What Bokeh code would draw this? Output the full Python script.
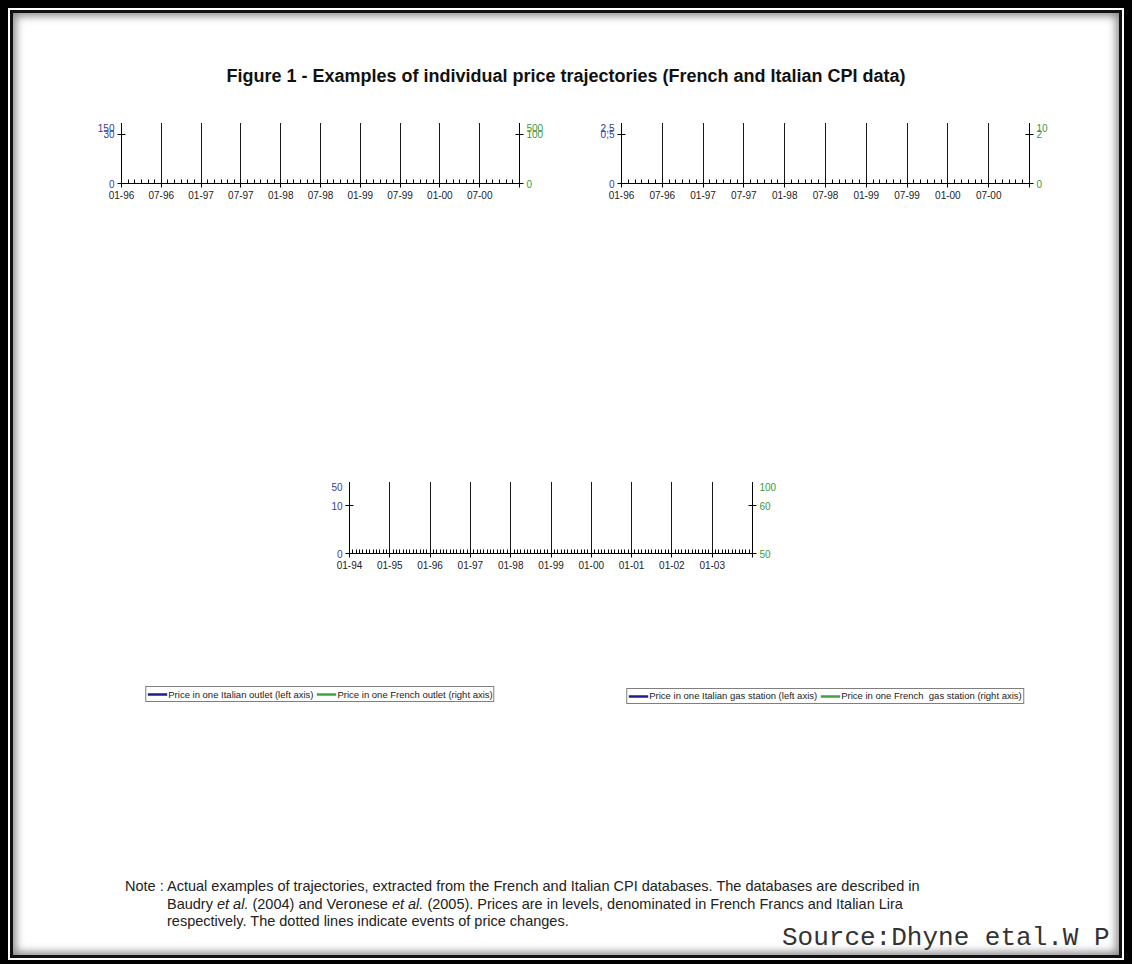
from bokeh.plotting import figure
from bokeh.models import (Range1d, LinearAxis, FixedTicker, Legend, LegendItem, Div, Spacer)
from bokeh.layouts import column, row
from bokeh.embed import file_html
from bokeh.resources import INLINE

FONT = "Liberation Sans"
BLUE = "#1f1f8c"
GREEN = "#3ca63c"
TICK_BLUE = "#3c3c98"
TICK_GREEN = "#3a9a3a"

# ---------------- data ----------------
# Jeans trousers: monthly prices, month index 0 = 01-96
jeans_it_start = 0
jeans_it = [45, 45, 45, 45, 45, 45, 45, 45, 45, 45, 45, 45, 45, 45, 45,
            50, 50, 50, 50,
            40, 40, 40, 40, 40, 40, 40,
            75, 75, 75, 75, 75, 75,
            99, 99, 99, 99, 99, 99, 99, 99, 99, 99,
            99, 99, 99, 99, 99, 99, 99, 99, 99, 99,
            99, 99, 99]
jeans_fr_start = 32
jeans_fr = [339, 339, 339, 339, 339, 339, 339, 339,
            328, 328, 250,
            328, 328, 328, 328, 328,
            276]
jeans_ticks = [0, 6, 12, 18, 24, 30, 36, 42, 48, 54, 60]
jeans_labels = ["01-96", "07-96", "01-97", "07-97", "01-98", "07-98",
                "01-99", "07-99", "01-00", "07-00", ""]

# Gasoline: monthly prices, month index 0 = 01-96
gas_it = [1.75, 1.75, 1.78, 1.81, 1.82, 1.80, 1.79, 1.80, 1.80, 1.80,
          1.81, 1.82, 1.82, 1.83, 1.83, 1.81, 1.82, 1.82, 1.81, 1.82,
          1.83, 1.84, 1.84, 1.83, 1.82, 1.80, 1.78, 1.78, 1.78, 1.78,
          1.79, 1.80, 1.79, 1.77, 1.77, 1.74, 1.72, 1.75, 1.77, 1.81,
          1.86, 1.87, 1.89, 1.92, 1.93, 1.96, 1.92, 1.98, 1.97, 2.01,
          2.09, 2.03, 2.07, 2.17, 2.20, 2.20, 2.20, 2.17, 2.18, 2.14]
gas_fr = [3.77, 3.91, 3.92, 3.92, 3.94, 3.90, 3.86, 3.86, 4.12, 4.38,
          4.18, 4.22, 4.22, 4.24, 4.11, 4.08, 4.08, 4.02, 3.97, 4.08,
          4.10, 4.12, 4.16, 4.12, 4.09, 4.06, 4.02, 4.01, 4.00, 3.92,
          3.78, 3.80, 3.84, 3.78, 3.75, 3.70, 3.72, 3.84, 3.90, 4.08,
          4.10, 4.06, 4.10, 4.24, 4.42, 4.46, 4.62, 4.94, 4.96, 4.96,
          4.95, 5.00, 5.08, 5.14, 5.02, 5.50, 5.86, 5.84, 6.00, 5.18]
gas_ticks = [0, 6, 12, 18, 24, 30, 36, 42, 48, 54, 60]
gas_labels = ["01-96", "07-96", "01-97", "07-97", "01-98", "07-98",
              "01-99", "07-99", "01-00", "07-00", ""]

# Haircut (men): monthly prices, month index 0 = 01-94
hair_it_start = 24
hair_it = [22, 22, 22, 22, 22, 22, 22, 22, 22,
           23, 23, 23, 23, 23, 23,
           25, 25, 25, 25, 25, 25, 25, 25, 25, 25,
           25, 25, 25, 25, 25, 25, 25, 25, 25, 25,
           25, 25, 25, 25, 25, 25, 25, 25, 25, 25,
           25, 25, 25, 25, 25, 25, 25, 25, 25, 25,
           25, 25, 25, 25, 25, 25, 25, 25, 25, 25,
           25, 25, 25, 25, 25, 25, 25, 25,
           28, 28, 28, 28, 28, 28, 28, 28, 28,
           30, 30, 30, 30, 30, 30, 30, 30, 30, 30, 30, 30, 30, 30]
hair_fr_start = 6
hair_fr = [75, 75, 75, 75, 75,
           82, 82, 82, 82, 82, 82, 82, 82,
           85, 85, 85, 85, 85, 85, 85, 85, 85, 85,
           85, 85, 85, 85, 85, 85, 85, 85,
           87, 87, 87, 87, 87, 87, 87, 87, 87, 87, 87,
           89, 89, 89, 89, 89, 89, 89, 89, 89, 89,
           89, 89, 89, 89, 89, 89, 89, 89, 89, 89,
           89, 89, 89,
           92, 92, 92, 92, 92, 92, 92, 92, 92, 92, 92, 92,
           95]
hair_ticks = [0, 12, 24, 36, 48, 60, 72, 84, 96, 108, 120]
hair_labels = ["01-94", "01-95", "01-96", "01-97", "01-98", "01-99",
               "01-00", "01-01", "01-02", "01-03", ""]

gas_left_ticks = [0, 0.5, 1, 1.5, 2, 2.5]
gas_left_labels = ["0", "0,5", "1", "1,5", "2", "2,5"]


# ---------------- helpers ----------------
def runs(start, vals):
    xs, ys = [], []
    seg = dict(x0=[], y0=[], x1=[], y1=[])
    n = len(vals)
    k = 0
    while k < n:
        j = k
        while j + 1 < n and vals[j + 1] == vals[k]:
            j += 1
        if j > k:
            xs.append([start + k + 0.5, start + j + 0.5])
            ys.append([vals[k], vals[k]])
        if j + 1 < n:
            seg["x0"].append(start + j + 0.5)
            seg["y0"].append(vals[j])
            seg["x1"].append(start + j + 1.5)
            seg["y1"].append(vals[j + 1])
        k = j + 1
    return xs, ys, seg


def add_series(p, start, vals, color, dash, change_width, yname="default"):
    xs, ys, seg = runs(start, vals)
    r = p.multi_line(xs=xs, ys=ys, line_color=color, line_width=2.5,
                     y_range_name=yname)
    p.segment(x0=seg["x0"], y0=seg["y0"], x1=seg["x1"], y1=seg["y1"],
              line_color=color, line_width=change_width, line_dash=dash,
              y_range_name=yname)
    return r


def style_axis(ax, ticks, labels, color, minor=None, label="", label_color="black"):
    ax.ticker = FixedTicker(ticks=ticks, minor_ticks=minor or [])
    ax.major_label_overrides = {t: l for t, l in zip(ticks, labels)}
    ax.axis_line_color = "black"
    ax.axis_line_width = 1
    ax.major_tick_line_color = "black"
    ax.major_tick_in = 4
    ax.major_tick_out = 4
    if minor:
        ax.minor_tick_line_color = "black"
        ax.minor_tick_in = 4
        ax.minor_tick_out = 0
    else:
        ax.minor_tick_line_color = None
    ax.major_label_text_font = FONT
    ax.major_label_text_font_size = "10px"
    ax.major_label_text_color = color
    ax.major_label_standoff = 3
    if label:
        ax.axis_label = label
        ax.axis_label_text_font = FONT
        ax.axis_label_text_font_size = "8.5px"
        ax.axis_label_text_font_style = "bold"
        ax.axis_label_text_color = label_color
        ax.axis_label_standoff = 4


def make_fig(title, width, height, mbl, mbr, mbt, mbb, xmax, yl, yr, tstandoff):
    p = figure(width=width, height=height, x_range=Range1d(0, xmax),
               y_range=Range1d(*yl), output_backend="svg", toolbar_location=None,
               min_border_left=mbl, min_border_right=mbr,
               min_border_top=mbt, min_border_bottom=mbb,
               background_fill_color="white", border_fill_alpha=0,
               outline_line_color=None)
    p.extra_y_ranges = {"right": Range1d(*yr)}
    p.title.text = title
    p.title.align = "center"
    p.title.text_font = FONT
    p.title.text_font_size = "17px"
    p.title.text_font_style = "normal"
    p.title.text_color = "#111111"
    p.title.standoff = tstandoff
    p.ygrid.visible = False
    p.xgrid.grid_line_color = "#1a1a1a"
    p.xgrid.grid_line_width = 1
    return p


def add_legend(p, r1, l1, r2, l2, margin):
    leg = Legend(items=[LegendItem(label=l1, renderers=[r1]),
                        LegendItem(label=l2, renderers=[r2])],
                 orientation="horizontal", location="center",
                 border_line_color="black", border_line_width=1,
                 label_text_font=FONT, label_text_font_size="9.5px",
                 label_text_color="#222222",
                 glyph_width=20, glyph_height=12, label_height=12,
                 label_standoff=1, padding=1, spacing=3, margin=margin,
                 background_fill_color="white", background_fill_alpha=1)
    p.add_layout(leg, "below")


# ---------------- Jeans ----------------
pj = make_fig("Jeans trousers", 560, 359, 108, 54, 57, 60, 60,
              (0, 150), (0, 500), 18)
pj.xgrid.ticker = FixedTicker(ticks=jeans_ticks)
style_axis(pj.xaxis[0], jeans_ticks, jeans_labels, "#222222",
           minor=list(range(0, 61)))
style_axis(pj.yaxis[0], [0, 30, 60, 90, 120, 150],
           ["0", "30", "60", "90", "120", "150"], TICK_BLUE,
           label="1000 Italian liras", label_color=TICK_BLUE)
raj = LinearAxis(y_range_name="right")
pj.add_layout(raj, "right")
style_axis(raj, [0, 100, 200, 300, 400, 500],
           ["0", "100", "200", "300", "400", "500"], TICK_GREEN,
           label="French francs", label_color=TICK_GREEN)
r1 = add_series(pj, jeans_it_start, jeans_it, BLUE, "2 5", 2.5)
r2 = add_series(pj, jeans_fr_start, jeans_fr, GREEN, "2 5", 2.5, "right")
add_legend(pj, r1, "Price in one Italian outlet (left axis)",
           r2, "Price in one French outlet (right axis)", 12)

# ---------------- Gasoline ----------------
pg = make_fig("Gasoline", 536, 359, 48, 80, 60, 57, 60,
              (0, 2.5), (0, 10), 21)
pg.xgrid.ticker = FixedTicker(ticks=gas_ticks)
style_axis(pg.xaxis[0], gas_ticks, gas_labels, "#222222",
           minor=list(range(0, 61)))
style_axis(pg.yaxis[0], gas_left_ticks, gas_left_labels, TICK_BLUE,
           label="1000 Italian liras", label_color=TICK_BLUE)
rag = LinearAxis(y_range_name="right")
pg.add_layout(rag, "right")
style_axis(rag, [0, 2, 4, 6, 8, 10], ["0", "2", "4", "6", "8", "10"],
           TICK_GREEN)
g1 = add_series(pg, 0, gas_it, BLUE, "solid", 2.0)
g2 = add_series(pg, 0, gas_fr, GREEN, "solid", 2.0, "right")
add_legend(pg, g1, "Price in one Italian gas station (left axis)",
           g2, "Price in one French  gas station (right axis)", 11)

# ---------------- Haircut ----------------
ph = make_fig("Haircut (men)", 520, 375, 57, 60, 71, 63, 120,
              (0, 50), (50, 100), 24)
ph.xgrid.ticker = FixedTicker(ticks=hair_ticks)
style_axis(ph.xaxis[0], hair_ticks, hair_labels, "#222222",
           minor=list(range(0, 121)))
style_axis(ph.yaxis[0], [0, 10, 20, 30, 40, 50],
           ["0", "10", "20", "30", "40", "50"], TICK_BLUE,
           label="1000 Italian liras", label_color=TICK_BLUE)
rah = LinearAxis(y_range_name="right")
ph.add_layout(rah, "right")
style_axis(rah, [50, 60, 70, 80, 90, 100],
           ["50", "60", "70", "80", "90", "100"], TICK_GREEN,
           label="French francs", label_color=TICK_GREEN)
h1 = add_series(ph, hair_it_start, hair_it, BLUE, "2 3", 2.5)
h2 = add_series(ph, hair_fr_start, hair_fr, GREEN, "2 3", 2.5, "right")
add_legend(ph, h1, "Price of an Italian hairdresser (left axis)",
           h2, "Price of a French hairdresser (right axis)", 11)

# ---------------- texts ----------------
title_div = Div(width=1096, height=100, text=(
    "<div style=\"width:1096px;text-align:center;padding-top:48px;"
    "font-family:'Liberation Sans';font-weight:bold;font-size:18px;"
    "line-height:21px;color:#111;\">"
    "Figure 1 - Examples of individual price trajectories "
    "(French and Italian CPI data)</div>"))

note_div = Div(width=1096, height=88, text=(
    "<div style=\"position:relative;width:1096px;height:88px;overflow:hidden;"
    "font-family:'Liberation Sans';color:#222;\">"
    "<div style=\"position:absolute;left:107px;top:16px;font-size:14.5px;"
    "line-height:17.5px;white-space:nowrap;\">Note :</div>"
    "<div style=\"position:absolute;left:149px;top:16px;font-size:14.5px;"
    "line-height:17.5px;white-space:nowrap;\">"
    "Actual examples of trajectories, extracted from the French and Italian CPI "
    "databases. The databases are described in<br>"
    "Baudry <i>et al.</i> (2004) and Veronese <i>et al.</i> (2005). Prices are in "
    "levels, denominated in French Francs and Italian Lira<br>"
    "respectively. The dotted lines indicate events of price changes.</div>"
    "<div style=\"position:absolute;left:764px;top:62px;font-family:'Liberation Mono';"
    "font-size:26px;line-height:28px;color:#333;white-space:pre;\">"
    "Source:Dhyne etal.W P</div>"
    "</div>"))

inner = column(title_div, row(pj, pg), row(Spacer(width=279, height=375), ph),
               note_div,
               styles={"border": "3px solid #111",
                       "box-shadow": "inset 0 0 9px 3px #8a8a8a",
                       "background-color": "white"})
mid = column(inner, styles={"border": "2px solid white"})
outer = column(mid, styles={"border": "8px solid black"})

open("out.html", "w").write(file_html(outer, INLINE))
